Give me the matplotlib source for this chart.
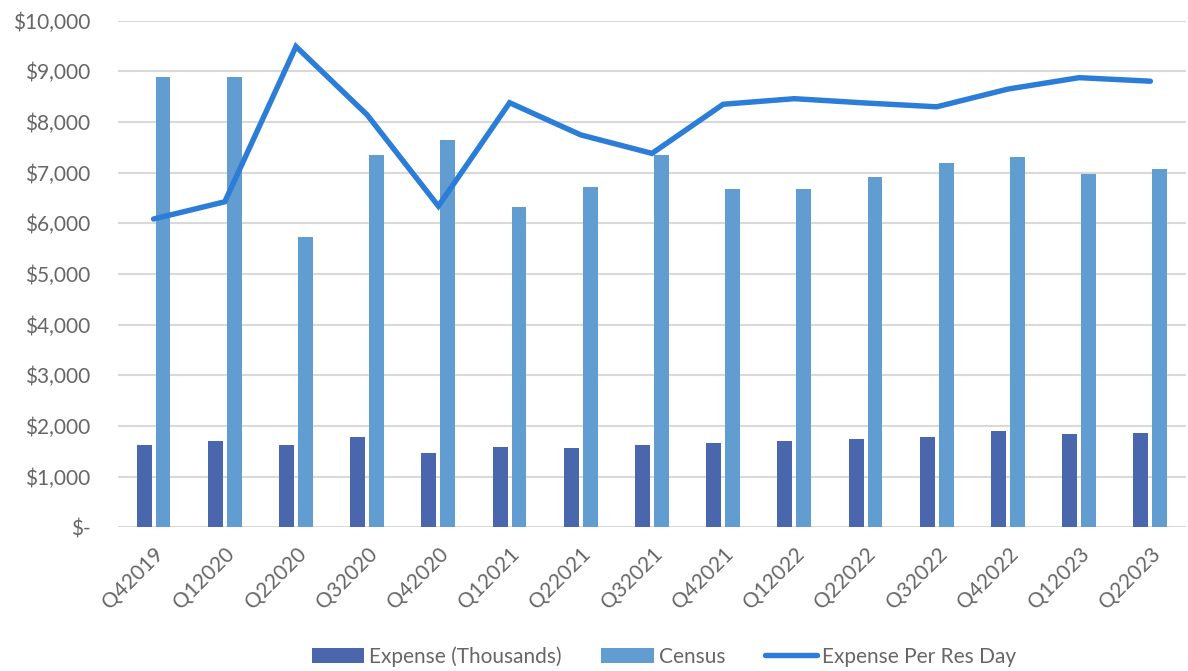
import numpy as np
import matplotlib.pyplot as plt
from matplotlib.ticker import FuncFormatter

plt.rcParams['font.family'] = ['Lato', 'DejaVu Sans']

# ============================
# Data
# ============================
quarters = ["Q42019", "Q12020", "Q22020", "Q32020", "Q42020", "Q12021", "Q22021",
            "Q32021", "Q42021", "Q12022", "Q22022", "Q32022", "Q42022", "Q12023", "Q22023"]
expense_thousands = [1620, 1705, 1625, 1790, 1460, 1585, 1560,
                     1625, 1665, 1700, 1735, 1790, 1895, 1850, 1860]
census = [8890, 8880, 5720, 7350, 7645, 6320, 6725,
          7350, 6680, 6680, 6920, 7190, 7310, 6975, 7065]
expense_per_res_day = [6085, 6425, 9490, 8140, 6340, 8380, 7745,
                       7380, 8350, 8460, 8375, 8300, 8650, 8875, 8805]

yticks = np.arange(0, 10001, 1000)

DARK = "#4A66AC"
LIGHT = "#629DD1"
LINE = "#2B7DD8"
TEXT = "#666666"
GRID = "#D9D9D9"


def money(v, _pos):
    if v == 0:
        return "$-"
    return f"${v:,.0f}"


fig = plt.figure(figsize=(11.88, 6.71), dpi=100)
ax = fig.add_axes([0.0993, 0.2142, 0.8990, 0.7550])

x = np.arange(len(quarters))
w = 0.21
gap = 0.055
b1 = ax.bar(x - (w + gap) / 2, expense_thousands, width=w, color=DARK,
            label="Expense (Thousands)", zorder=2)
b2 = ax.bar(x + (w + gap) / 2, census, width=w, color=LIGHT,
            label="Census", zorder=2)
ln, = ax.plot(x, expense_per_res_day, color=LINE, lw=3.9, solid_capstyle="round",
              solid_joinstyle="miter", label="Expense Per Res Day", zorder=3)

ax.set_xlim(-0.5, len(quarters) - 0.5)
ax.set_ylim(0, 10000)
ax.set_yticks(yticks)
ax.yaxis.set_major_formatter(FuncFormatter(money))
ax.grid(axis="y", color=GRID, lw=1.5, zorder=0)
ax.set_axisbelow(True)

for s in ax.spines.values():
    s.set_visible(False)

ax.set_xticks(x)
ax.set_xticklabels(quarters, rotation=45, ha="right", rotation_mode="anchor")
ax.tick_params(axis="both", length=0, colors=TEXT, labelsize=15)
ax.tick_params(axis="y", pad=20)
ax.tick_params(axis="x", pad=12)

fig.legend(handles=[b1, b2, ln], loc="center", bbox_to_anchor=(0.559, 0.022),
           ncol=3, frameon=False, fontsize=15, labelcolor=TEXT,
           handlelength=2.5, handletextpad=0.25, columnspacing=1.9)

plt.savefig("out.png", dpi=100)
plt.close()
